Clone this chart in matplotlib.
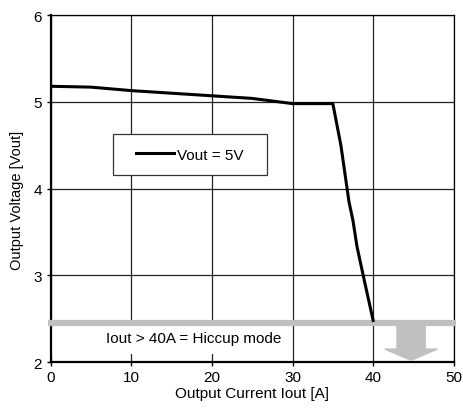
import matplotlib
matplotlib.use("Agg")
import matplotlib.pyplot as plt
from matplotlib.patches import Rectangle

plt.rcParams['font.family'] = ['Liberation Sans', 'DejaVu Sans']

# data
iout = [0, 5, 10, 15, 20, 25, 30, 35, 36, 37, 37.5, 38, 39, 40]
vout = [5.18, 5.17, 5.13, 5.10, 5.07, 5.04, 4.98, 4.98, 4.5, 3.85, 3.63, 3.33, 2.9, 2.48]
xticks = [0, 10, 20, 30, 40, 50]
yticks = [2, 3, 4, 5, 6]
hiccup_level = 2.45
gray = '#c0c0c0'

fig = plt.figure(figsize=(4.64, 4.14), dpi=100)
ax = fig.add_axes([0.109, 0.123, 0.869, 0.838])

ax.set_xlim(0, 50)
ax.set_ylim(2, 6)
ax.set_xticks(xticks)
ax.set_yticks(yticks)
ax.grid(True, color='#222222', linewidth=0.9)
ax.set_axisbelow(True)
for s in ax.spines.values():
    s.set_linewidth(0.9)
ax.spines['left'].set_linewidth(1.6)
ax.spines['bottom'].set_linewidth(1.6)
ax.tick_params(direction='out', length=3, width=1, labelsize=11, pad=3)

ax.plot(iout, vout, color='black', linewidth=2.2, zorder=4, label='Vout = 5V')

# hiccup band, white label box and arrow
ax.add_patch(Rectangle((0, 2.09), 29.85, hiccup_level - 2.09, facecolor='white',
                       edgecolor='none', zorder=2))
ax.plot([-0.3, 50.3], [hiccup_level, hiccup_level], color=gray, linewidth=4.5,
        solid_capstyle='butt', clip_on=False, zorder=3)
ax.text(17.7, 2.28, 'Iout > 40A = Hiccup mode', ha='center', va='center',
        fontsize=11, zorder=5)
ax.arrow(44.7, hiccup_level - 0.03, 0, -0.40, width=3.5, head_width=6.5,
         head_length=0.13, length_includes_head=True, color=gray, zorder=3)

# legend in a fixed box
ax.add_patch(Rectangle((0.154, 0.539), 0.382, 0.118, transform=ax.transAxes,
                       facecolor='white', edgecolor='#333333', linewidth=0.9, zorder=5))
ax.legend(loc='center left', bbox_to_anchor=(0.212, 0.598), frameon=False,
          fontsize=11, handlelength=2.5, handletextpad=0.2, borderpad=0,
          borderaxespad=0).set_zorder(6)

ax.set_xlabel('Output Current Iout [A]', fontsize=11, labelpad=1)
ax.set_ylabel('Output Voltage [Vout]', fontsize=10.5)
ax.yaxis.set_label_coords(-0.066, 0.47)

fig.savefig('out.png', dpi=100)
